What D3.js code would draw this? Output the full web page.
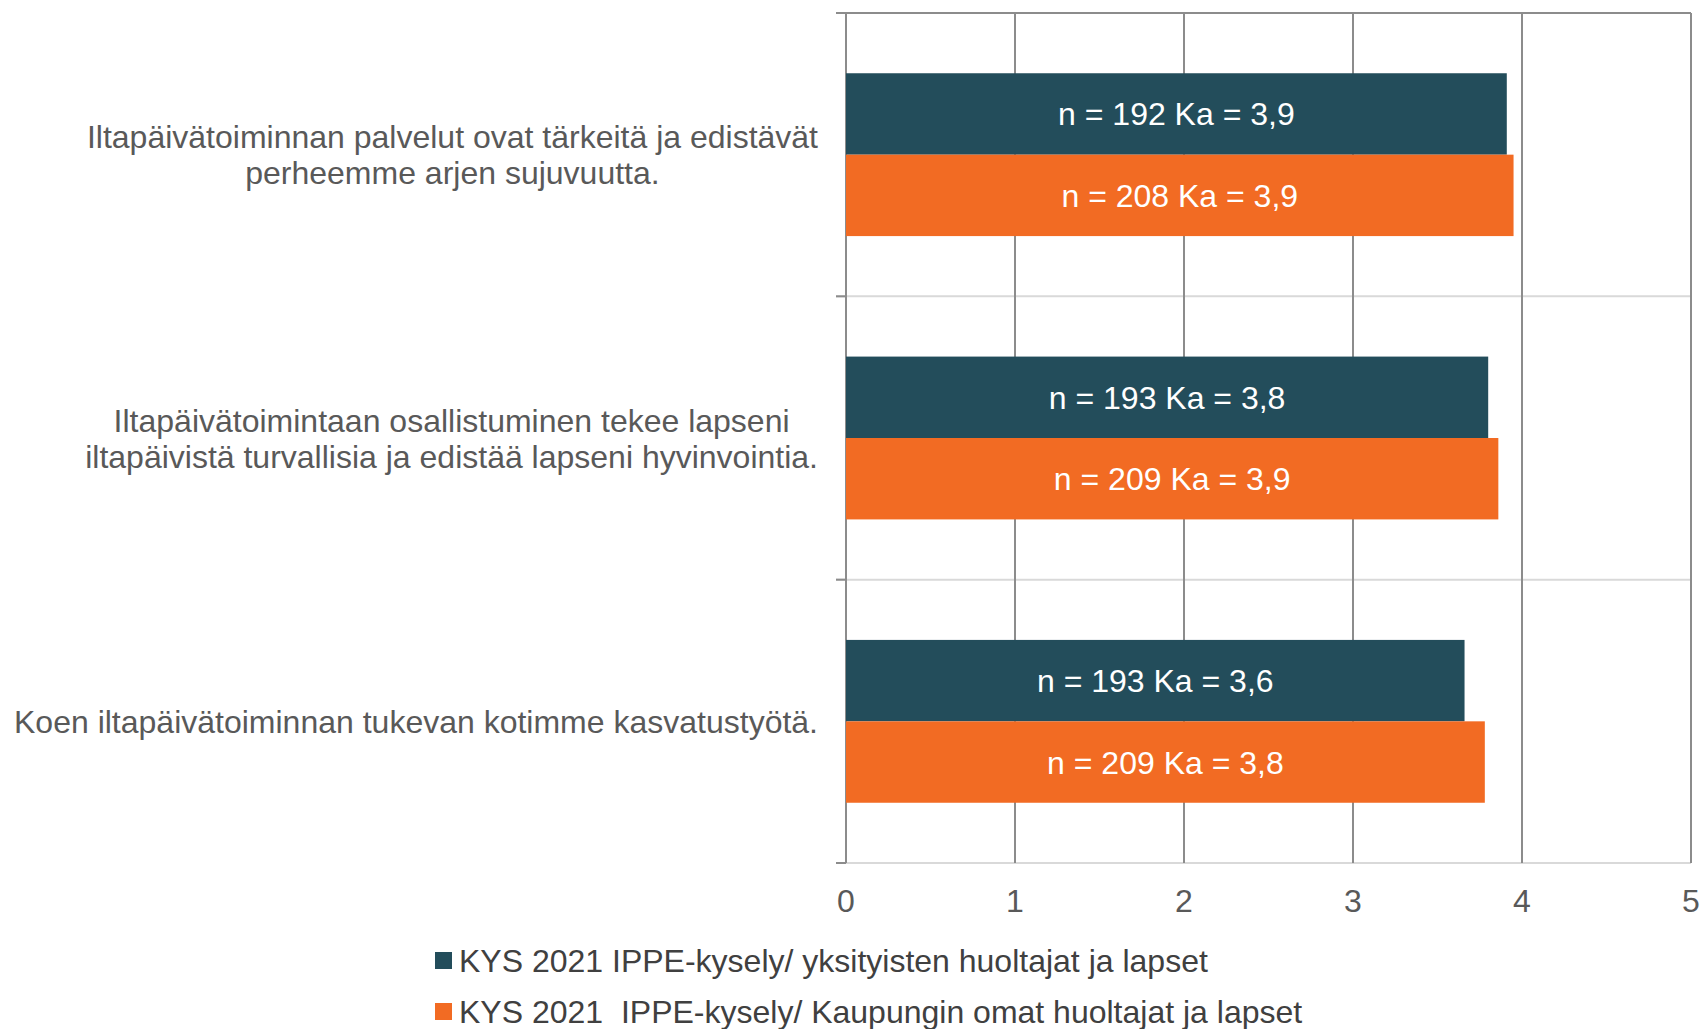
<!DOCTYPE html>
<html><head><meta charset="utf-8">
<script src="https://cdn.jsdelivr.net/npm/d3@7"></script>
<style>body{margin:0;background:#fff}svg{display:block}text{font-family:"Liberation Sans",Arial,sans-serif}</style>
</head><body><svg id="c" width="1703" height="1029"></svg>
<script>
const categories = [
  ["Iltapäivätoiminnan palvelut ovat tärkeitä ja edistävät", "perheemme arjen sujuvuutta."],
  ["Iltapäivätoimintaan osallistuminen tekee lapseni", "iltapäivistä turvallisia ja edistää lapseni hyvinvointia."],
  ["Koen iltapäivätoiminnan tukevan kotimme kasvatustyötä."]
];
const seriesNames = ["KYS 2021 IPPE-kysely/ yksityisten huoltajat ja lapset", "KYS 2021  IPPE-kysely/ Kaupungin omat huoltajat ja lapset"];
const privateValues = [3.91, 3.80, 3.66];
const cityValues = [3.95, 3.86, 3.78];
const privateLabels = ["n = 192 Ka = 3,9", "n = 193 Ka = 3,8", "n = 193 Ka = 3,6"];
const cityLabels = ["n = 208 Ka = 3,9", "n = 209 Ka = 3,9", "n = 209 Ka = 3,8"];
const tickValues = [0, 1, 2, 3, 4, 5];
const colors = ["#234D5B", "#F26B23"];

const svg = d3.select("#c");
const L = 846, R = 1691, T = 13, B = 863;
const FS = 32;
const x = d3.scaleLinear().domain([0, 5]).range([L, R]);
const y = d3.scaleBand().domain(d3.range(categories.length)).range([T, B]).paddingInner(0).paddingOuter(0);
const inner = d3.scaleBand().domain([0, 1]).range([0, y.bandwidth()]).paddingInner(0).paddingOuter(0.74);

const seps = d3.range(categories.length + 1).map(i => i === categories.length ? B : y(i));
svg.selectAll("line.sep").data(seps).join("line")
  .attr("x1", L - 10).attr("x2", R).attr("y1", d => d).attr("y2", d => d)
  .attr("stroke", (d, i) => i === 0 ? "#8c8c8c" : "#d9d9d9").attr("stroke-width", 2);
svg.selectAll("line.ctick").data(seps).join("line")
  .attr("x1", L - 10).attr("x2", L).attr("y1", d => d).attr("y2", d => d)
  .attr("stroke", "#8c8c8c").attr("stroke-width", 2);

svg.selectAll("line.grid").data(tickValues).join("line")
  .attr("x1", d => x(d)).attr("x2", d => x(d)).attr("y1", T).attr("y2", B)
  .attr("stroke", "#8c8c8c").attr("stroke-width", 2);

const series = [privateValues, cityValues];
const labels = [privateLabels, cityLabels];
series.forEach((vals, s) => {
  const g = svg.append("g");
  g.selectAll("rect").data(vals).join("rect")
    .attr("x", x(0)).attr("y", (d, i) => y(i) + inner(s))
    .attr("width", d => x(d) - x(0)).attr("height", inner.bandwidth())
    .attr("fill", colors[s]);
  g.selectAll("text").data(vals).join("text")
    .attr("x", d => (x(0) + x(d)) / 2).attr("y", (d, i) => y(i) + inner(s) + inner.bandwidth() / 2)
    .attr("dy", "0.36em").attr("text-anchor", "middle").attr("fill", "#fff")
    .attr("font-size", FS).text((d, i) => labels[s][i]);
});

svg.selectAll("text.xt").data(tickValues).join("text")
  .attr("x", d => x(d)).attr("y", 900).attr("dy", "0.36em").attr("text-anchor", "middle")
  .attr("fill", "#595959").attr("font-size", FS).text(d => d);

const rightEdge = 818, lh = 36;
categories.forEach((lines, i) => {
  const cy = y(i) + y.bandwidth() / 2;
  const g = svg.append("g");
  const ts = lines.map((ln, k) => g.append("text")
    .attr("y", cy + (k - (lines.length - 1) / 2) * lh).attr("dy", "0.36em")
    .attr("text-anchor", "middle").attr("fill", "#595959").attr("font-size", FS).text(ln));
  const maxW = d3.max(ts, t => t.node().getComputedTextLength());
  ts.forEach(t => t.attr("x", rightEdge - maxW / 2));
});

seriesNames.forEach((name, s) => {
  const ly = 960 + s * 51;
  svg.append("rect").attr("x", 435).attr("y", ly - 8).attr("width", 17).attr("height", 17).attr("fill", colors[s]);
  svg.append("text").attr("x", 459).attr("y", ly).attr("dy", "0.36em").attr("fill", "#404040")
    .attr("font-size", FS).style("white-space", "pre").text(name);
});
</script></body></html>
